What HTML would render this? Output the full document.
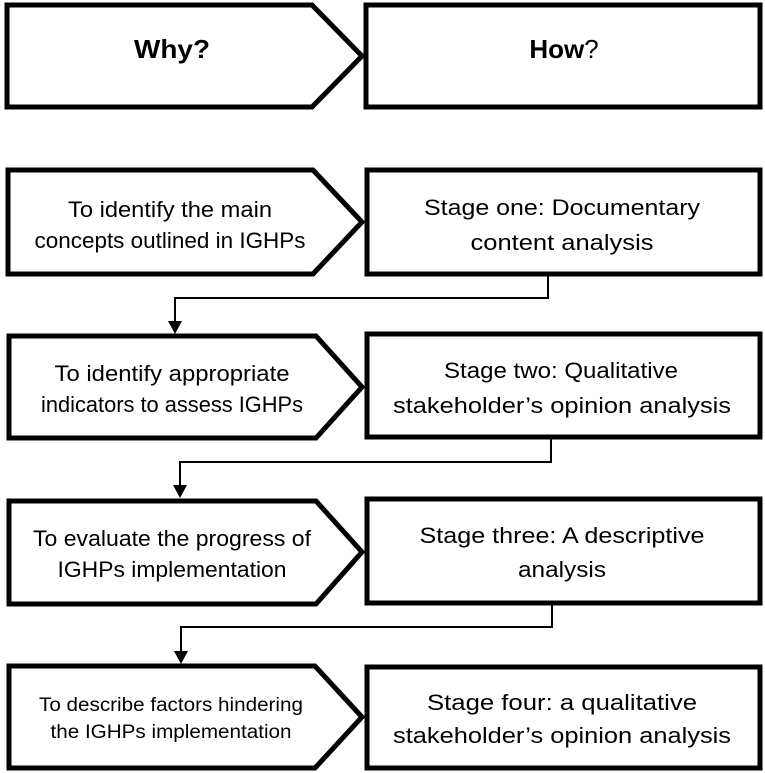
<!DOCTYPE html>
<html><head><meta charset="utf-8"><style>html,body{margin:0;padding:0;background:#fff}svg{display:block}</style></head>
<body>
<svg width="765" height="773" viewBox="0 0 765 773" xmlns="http://www.w3.org/2000/svg" font-family="Liberation Sans, sans-serif" fill="#000">
<g fill="#fff" stroke="#000" stroke-width="5" stroke-linejoin="miter">
<path d="M7,5 L312,5 L362,56 L312,107 L7,107Z"/>
<rect x="366" y="5" width="394" height="102"/>
<path d="M8,170 L313,170 L362,222 L313,274 L8,274Z"/>
<rect x="367" y="170" width="393" height="104"/>
<path d="M9,336 L316,336 L362,387 L316,438 L9,438Z"/>
<rect x="367" y="334" width="393" height="103"/>
<path d="M9,501 L316,501 L362,552 L316,604 L9,604Z"/>
<rect x="367" y="499" width="393" height="104"/>
<path d="M9,666 L315,666 L362,717 L315,768 L9,768Z"/>
<rect x="367" y="667" width="393" height="101"/>
</g>
<g fill="none" stroke="#000" stroke-width="2">
<path d="M548,276 V298 H175 V322"/>
<path d="M551,439 V462 H180 V486"/>
<path d="M552,605 V627 H181 V652"/>
</g>
<g fill="#000">
<path d="M168,321 L182,321 L175,334Z"/>
<path d="M173,485 L187,485 L180,498Z"/>
<path d="M174,651 L188,651 L181,664Z"/>
</g>
<g font-size="22" text-anchor="middle">
<text x="172" y="58" font-weight="bold" font-size="26" textLength="76" lengthAdjust="spacingAndGlyphs">Why?</text>
<text x="564" y="58" font-size="26"><tspan font-weight="bold">How</tspan>?</text>
<text x="170" y="217" textLength="204" lengthAdjust="spacingAndGlyphs">To identify the main</text>
<text x="170" y="248" textLength="271" lengthAdjust="spacingAndGlyphs">concepts outlined in IGHPs</text>
<text x="562" y="215" textLength="276" lengthAdjust="spacingAndGlyphs">Stage one: Documentary</text>
<text x="562" y="250" textLength="183" lengthAdjust="spacingAndGlyphs">content analysis</text>
<text x="172" y="381" textLength="235" lengthAdjust="spacingAndGlyphs">To identify appropriate</text>
<text x="172" y="412" textLength="262" lengthAdjust="spacingAndGlyphs">indicators to assess IGHPs</text>
<text x="561" y="378" textLength="234" lengthAdjust="spacingAndGlyphs">Stage two: Qualitative</text>
<text x="562" y="413" textLength="338" lengthAdjust="spacingAndGlyphs">stakeholder’s opinion analysis</text>
<text x="172" y="546" textLength="278" lengthAdjust="spacingAndGlyphs">To evaluate the progress of</text>
<text x="172" y="577" textLength="229" lengthAdjust="spacingAndGlyphs">IGHPs implementation</text>
<text x="562" y="543" textLength="285" lengthAdjust="spacingAndGlyphs">Stage three: A descriptive</text>
<text x="562" y="577" textLength="88" lengthAdjust="spacingAndGlyphs">analysis</text>
<text x="171" y="711" font-size="19" textLength="264" lengthAdjust="spacingAndGlyphs">To describe factors hindering</text>
<text x="171" y="738" font-size="19" textLength="241" lengthAdjust="spacingAndGlyphs">the IGHPs implementation</text>
<text x="562" y="710" textLength="270" lengthAdjust="spacingAndGlyphs">Stage four: a qualitative</text>
<text x="562" y="743" textLength="338" lengthAdjust="spacingAndGlyphs">stakeholder’s opinion analysis</text>
</g>
</svg>
</body></html>
